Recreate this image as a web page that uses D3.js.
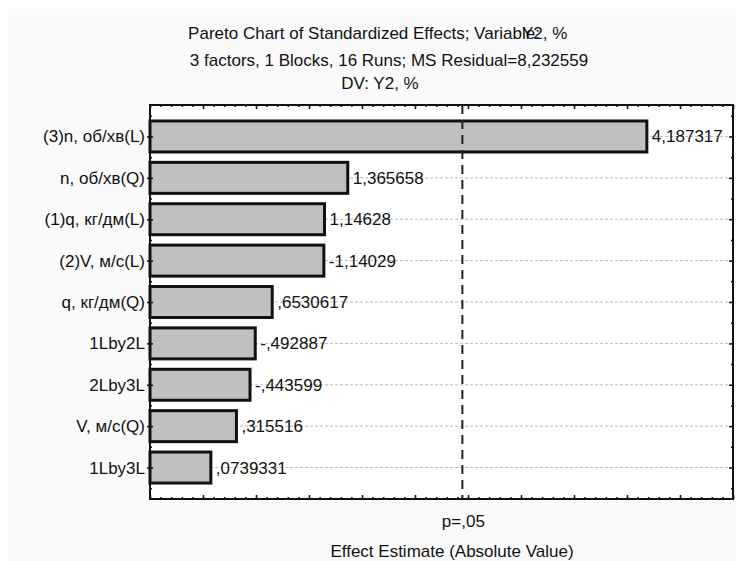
<!DOCTYPE html>
<html>
<head>
<meta charset="utf-8">
<script src="https://cdn.jsdelivr.net/npm/d3@7"></script>
<style>
  body { margin: 0; background: #fff; }
  text { font-family: "Liberation Sans", Arial, sans-serif; font-size: 17px; fill: #111; }
</style>
</head>
<body>
<svg width="736" height="561"></svg>
<script>
const factors = ["(3)n, об/хв(L)", "n, об/хв(Q)", "(1)q, кг/дм(L)", "(2)V, м/с(L)", "q, кг/дм(Q)", "1Lby2L", "2Lby3L", "V, м/с(Q)", "1Lby3L"];
const effects = [4.187317, 1.365658, 1.14628, -1.14029, 0.6530617, -0.492887, -0.443599, 0.315516, 0.0739331];
const effectLabels = ["4,187317", "1,365658", "1,14628", "-1,14029", ",6530617", "-,492887", "-,443599", ",315516", ",0739331"];
const pCrit = 2.446912;
const xDomain = [-0.5, 5.0];

const svg = d3.select('svg');
const plotL = 150, plotR = 733, plotT = 105, plotB = 499;

svg.append('rect')
   .attr('x', 8).attr('y', 9)
   .attr('width', 736).attr('height', 561)
   .attr('fill', '#fafafa');

svg.append('rect')
   .attr('x', plotL).attr('y', plotT)
   .attr('width', plotR - plotL).attr('height', plotB - plotT)
   .attr('fill', '#fff');

const x = d3.scaleLinear().domain(xDomain).range([plotL, plotR]);
const y = d3.scaleLinear().domain([-0.76, 8.76]).range([plotT, plotB]);
const idx = d3.range(factors.length);

// dashed grid lines
svg.append('g')
   .selectAll('line')
   .data(idx)
   .enter()
   .append('line')
   .attr('x1', plotL).attr('x2', plotR)
   .attr('y1', i => y(i)).attr('y2', i => y(i))
   .attr('stroke', '#bbb')
   .attr('stroke-width', 1)
   .attr('stroke-dasharray', '3,2');

// bars
const barH = 31;
svg.append('g')
   .selectAll('rect')
   .data(idx)
   .enter()
   .append('rect')
   .attr('x', x(xDomain[0]))
   .attr('y', i => y(i) - barH / 2)
   .attr('width', i => x(Math.abs(effects[i])) - x(xDomain[0]))
   .attr('height', barH)
   .attr('fill', '#c0c0c0')
   .attr('stroke', '#111')
   .attr('stroke-width', 3);

// value labels
svg.append('g')
   .selectAll('text')
   .data(idx)
   .enter()
   .append('text')
   .attr('x', i => x(Math.abs(effects[i])) + 5)
   .attr('y', i => y(i) + 6)
   .text(i => effectLabels[i]);

// category labels
svg.append('g')
   .selectAll('text')
   .data(idx)
   .enter()
   .append('text')
   .attr('x', plotL - 5)
   .attr('y', i => y(i) + 6)
   .attr('text-anchor', 'end')
   .text(i => factors[i]);

// critical value line
svg.append('line')
   .attr('x1', x(pCrit)).attr('x2', x(pCrit))
   .attr('y1', plotT).attr('y2', plotB)
   .attr('stroke', '#222')
   .attr('stroke-width', 2)
   .attr('stroke-dasharray', '9,6');

// ticks
const major = d3.range(xDomain[0], xDomain[1] + 0.01, 0.5);
const minor = d3.range(xDomain[0], xDomain[1] + 0.01, 0.1);
function ticks(axis, vals, size, tx, ty) {
  const g = svg.append('g')
     .attr('transform', `translate(${tx},${ty})`)
     .call(axis.tickValues(vals).tickSize(size).tickFormat(''));
  g.select('.domain').remove();
  g.selectAll('line').attr('stroke', '#111').attr('stroke-width', 1.5);
}
ticks(d3.axisBottom(x), minor, -2, 0, plotB);
ticks(d3.axisBottom(x), major, -4, 0, plotB);
ticks(d3.axisTop(x), minor, -2, 0, plotT);
ticks(d3.axisTop(x), major, -4, 0, plotT);
const bounds = d3.range(-0.5, factors.length, 1);
ticks(d3.axisLeft(y), idx, 3, plotL, 0);
ticks(d3.axisRight(y), idx, 3, plotL, 0);
ticks(d3.axisRight(y), bounds, 2, plotL, 0);
ticks(d3.axisLeft(y), idx, 4, plotR, 0);
ticks(d3.axisLeft(y), bounds, 2, plotR, 0);

// frame
svg.append('rect')
   .attr('x', plotL).attr('y', plotT)
   .attr('width', plotR - plotL).attr('height', plotB - plotT)
   .attr('fill', 'none')
   .attr('stroke', '#111')
   .attr('stroke-width', 2);

// titles (the variable name overprints the end of "Variable:" as in the original)
const t1 = svg.append('text').attr('x', 0).attr('y', 39)
   .text('Pareto Chart of Standardized Effects; Variable:');
const pre = t1.node().getSubStringLength(0, 44);
t1.attr('x', 522 - pre);
svg.append('text').attr('x', 522).attr('y', 39)
   .text('Y2, %');
svg.append('text').attr('x', 389).attr('y', 66).attr('text-anchor', 'middle')
   .text('3 factors, 1 Blocks, 16 Runs; MS Residual=8,232559');
svg.append('text').attr('x', 380).attr('y', 89).attr('text-anchor', 'middle')
   .text('DV: Y2, %');

svg.append('text').attr('x', x(pCrit) + 1).attr('y', 527).attr('text-anchor', 'middle')
   .text('p=,05');
svg.append('text').attr('x', 452).attr('y', 557).attr('text-anchor', 'middle')
   .text('Effect Estimate (Absolute Value)');
</script>
</body>
</html>
